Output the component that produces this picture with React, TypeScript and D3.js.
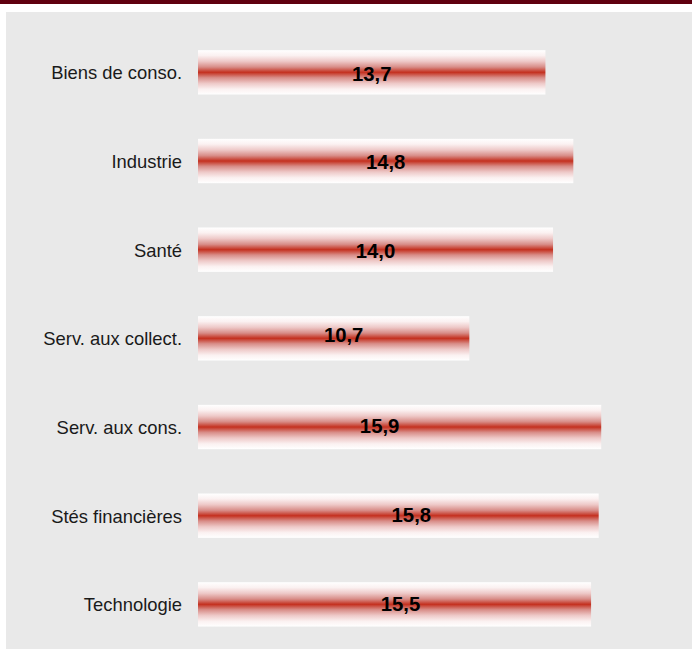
import React from "react";
import * as d3 from "d3";

const categories = [
  "Biens de conso.",
  "Industrie",
  "Santé",
  "Serv. aux collect.",
  "Serv. aux cons.",
  "Stés financières",
  "Technologie",
];
const values = [13.7, 14.8, 14.0, 10.7, 15.9, 15.8, 15.5];
const valueLabels = ["13,7", "14,8", "14,0", "10,7", "15,9", "15,8", "15,5"];
// small nudges of the value labels, as seen in the reference
const labelNudgeX = [0, 0, 0, 10, -20, 13, 6];
const labelNudgeY = [8.5, 8, 8.5, 3.5, 6, 6.5, 6.5];

const W = 692;
const H = 649;

export default function App() {
  React.useEffect(() => {
    document.body.style.margin = "0";
  }, []);

  const x = d3.scaleLinear().domain([0, 16]).range([198, 198 + 16 * 25.36]);
  const y = d3
    .scaleBand<string>()
    .domain(categories)
    .range([28, 648.7])
    .paddingInner(0.5)
    .paddingOuter(0.25);

  const stops = [
    [0, "#ffffff"],
    [0.12, "#fbf1f1"],
    [0.25, "#eec9c8"],
    [0.38, "#d88d88"],
    [0.5, "#c4301f"],
    [0.62, "#d88d88"],
    [0.75, "#eec9c8"],
    [0.88, "#fbf1f1"],
    [1, "#ffffff"],
  ];

  return (
    <svg width={W} height={H} style={{ display: "block" }} fontFamily="'Liberation Sans', Arial, sans-serif">
      <defs>
        <linearGradient id="barGrad" x1="0" y1="0" x2="0" y2="1">
          {stops.map(([o, c], i) => (
            <stop key={i} offset={o as number} stopColor={c as string} />
          ))}
        </linearGradient>
      </defs>
      <rect x={0} y={0} width={W} height={H} fill="#ffffff" />
      <rect x={0} y={0} width={W} height={4} fill="#600010" />
      <rect x={6} y={12} width={W - 6} height={H - 12} fill="#e9e9e9" />
      {categories.map((c, i) => {
        const y0 = y(c)!;
        const bw = y.bandwidth();
        const cy = y0 + bw / 2;
        const x1 = x(values[i]);
        return (
          <g key={c}>
            <rect x={x(0)} y={y0} width={x1 - x(0)} height={bw} fill="url(#barGrad)" />
            <text x={182} y={cy + 7} textAnchor="end" fontSize={18.4} fill="#1a1a1a">
              {c}
            </text>
            <text
              x={(x(0) + x1) / 2 + labelNudgeX[i]}
              y={cy + labelNudgeY[i]}
              textAnchor="middle"
              fontSize={20.3}
              fontWeight="bold"
              fill="#000000"
            >
              {valueLabels[i]}
            </text>
          </g>
        );
      })}
    </svg>
  );
}
